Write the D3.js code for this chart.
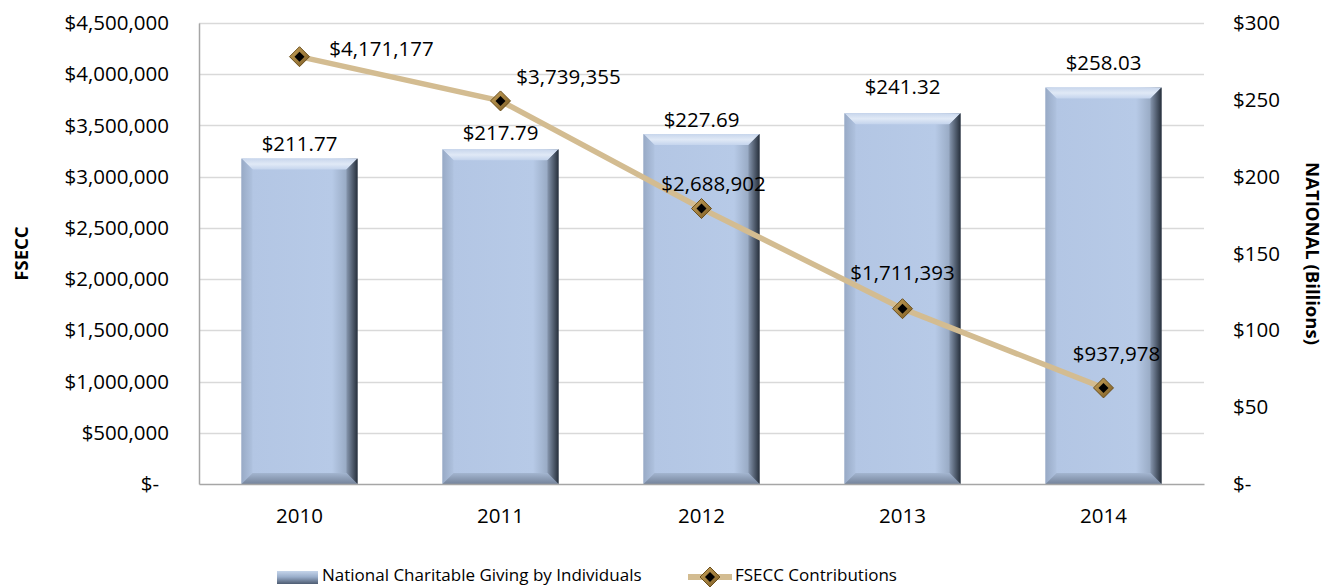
<!DOCTYPE html>
<html>
<head>
<meta charset="utf-8">
<script src="https://cdn.jsdelivr.net/npm/d3@7"></script>
<style>
  body { margin: 0; background: #fff; }
  text { font-family: "Open Sans", "Noto Sans", sans-serif; fill: #000; }
</style>
</head>
<body>
<div id="chart"></div>
<script>
// data
var years = ["2010", "2011", "2012", "2013", "2014"];
var national = [211.77, 217.79, 227.69, 241.32, 258.03];   // billions
var fsecc = [4171177, 3739355, 2688902, 1711393, 937978];
var leftTicks = [0, 500000, 1000000, 1500000, 2000000, 2500000, 3000000, 3500000, 4000000, 4500000];
var rightTicks = [0, 50, 100, 150, 200, 250, 300];
// label nudges (px): gap above each bar, and dx/dy of each line label from its point
var barLabelGap = [8, 9, 7, 19, 17];
var lineLabelOffset = [[82, -1], [68, -17], [12, -18], [0, -29], [13, -27]];

var W = 1329, H = 587;
var margin = {top: 23, right: 125, bottom: 103, left: 199};
var width = W - margin.left - margin.right,
    height = H - margin.top - margin.bottom;
var fs = "20.5px";

var svg = d3.select("#chart").append("svg")
  .attr("width", W).attr("height", H);

var defs = svg.append("defs");
function grad(id, x2, y2, stops) {
  var gr = defs.append("linearGradient").attr("id", id)
    .attr("x1", 0).attr("y1", 0).attr("x2", x2).attr("y2", y2);
  stops.forEach(function(s) {
    gr.append("stop").attr("offset", s[0]).attr("stop-color", s[1]);
  });
}
grad("barBody", 1, 0, [["0%", "#a1b4d0"], ["8%", "#b3c6e4"], ["78%", "#b7cae7"], ["90%", "#9aacc6"], ["100%", "#4a5668"]]);
grad("bevTop", 0, 1, [["0%", "#c8d6ec"], ["50%", "#e0e9f6"], ["100%", "#c4d4ed"]]);
grad("bevRight", 1, 0, [["0%", "#8696ae"], ["100%", "#27303c"]]);
grad("bevLeft", 1, 0, [["0%", "#98aac6"], ["100%", "#afc2df"]]);
grad("bevBottom", 0, 1, [["0%", "#a3b5d0"], ["100%", "#75849b"]]);
grad("markerFill", 1, 1, [["0%", "#c9a45c"], ["100%", "#7a5a22"]]);
grad("legBar", 0, 1, [["0%", "#c5d4ea"], ["45%", "#9aaecb"], ["100%", "#4e5c72"]]);

var g = svg.append("g").attr("transform", "translate(" + margin.left + "," + margin.top + ")");

var x = d3.scaleBand().domain(years).range([0, width]).paddingInner(0.423).paddingOuter(0.2115);
var yL = d3.scaleLinear().domain([0, 4500000]).range([height, 0]);
var yR = d3.scaleLinear().domain([0, 300]).range([height, 0]);

// gridlines
g.append("g").selectAll("line").data(leftTicks.slice(1)).enter().append("line")
  .attr("x1", 0).attr("x2", width)
  .attr("y1", function(d) { return Math.round(yL(d)) + 0.5; })
  .attr("y2", function(d) { return Math.round(yL(d)) + 0.5; })
  .attr("stroke", "#d9d9d9").attr("stroke-width", 1.5);

// left axis
var fmtL = function(d) { return d === 0 ? "$-" : "$" + d3.format(",")(d); };
var axL = g.append("g").call(d3.axisLeft(yL).tickValues(leftTicks).tickSize(0).tickPadding(30).tickFormat(fmtL));
axL.select(".domain").attr("stroke", "#a6a6a6").attr("stroke-width", 1.5);
axL.selectAll("text").style("font-size", fs).attr("font-family", null)
  .attr("dx", function(d) { return d === 0 ? -10 : 0; });

// right axis
var fmtR = function(d) { return d === 0 ? "$-" : "$" + d; };
var axR = g.append("g").attr("transform", "translate(" + width + ",0)")
  .call(d3.axisRight(yR).tickValues(rightTicks).tickSize(0).tickPadding(29).tickFormat(fmtR));
axR.select(".domain").remove();
axR.selectAll("text").style("font-size", fs).attr("font-family", null);

// bars
var b = 11;
var bars = g.append("g").selectAll("g").data(national).enter().append("g");
bars.each(function(d, i) {
  var sel = d3.select(this);
  var x0 = x(years[i]), x1 = x0 + x.bandwidth(), y0 = yR(d), y1 = yR(0);
  sel.append("rect").attr("x", x0).attr("y", y0).attr("width", x1 - x0).attr("height", y1 - y0)
    .attr("fill", "url(#barBody)");
  sel.append("polygon").attr("points", [[x0, y0], [x1, y0], [x1 - b, y0 + b], [x0 + b, y0 + b]].join(" "))
    .attr("fill", "url(#bevTop)");
  sel.append("polygon").attr("points", [[x0, y0], [x0 + b, y0 + b], [x0 + b, y1 - b], [x0, y1]].join(" "))
    .attr("fill", "url(#bevLeft)");
  sel.append("polygon").attr("points", [[x1, y0], [x1, y1], [x1 - b, y1 - b], [x1 - b, y0 + b]].join(" "))
    .attr("fill", "url(#bevRight)");
  sel.append("polygon").attr("points", [[x0, y1], [x1, y1], [x1 - b, y1 - b], [x0 + b, y1 - b]].join(" "))
    .attr("fill", "url(#bevBottom)");
  sel.append("text").attr("x", (x0 + x1) / 2).attr("y", y0 - barLabelGap[i])
    .attr("text-anchor", "middle").style("font-size", fs)
    .text("$" + d3.format(".2f")(d));
});

// bottom axis
var axB = g.append("g").attr("transform", "translate(0," + height + ")")
  .call(d3.axisBottom(x).tickSize(0).tickPadding(24));
axB.select(".domain").attr("stroke", "#a6a6a6").attr("stroke-width", 1.5);
axB.selectAll("text").style("font-size", fs).attr("font-family", null);

// line
var cx = function(i) { return x(years[i]) + x.bandwidth() / 2; };
var line = d3.line().x(function(d, i) { return cx(i); }).y(function(d) { return yL(d); });
g.append("path").datum(fsecc).attr("d", line)
  .attr("fill", "none").attr("stroke", "#d3bc91").attr("stroke-width", 5.5);

function diamond(sel, px, py) {
  sel.append("path").attr("d", "M" + px + "," + (py - 10) + "L" + (px + 10) + "," + py + "L" + px + "," + (py + 10) + "L" + (px - 10) + "," + py + "Z")
    .attr("fill", "url(#markerFill)").attr("stroke", "#6b4f1c").attr("stroke-width", 1);
  sel.append("path").attr("d", "M" + px + "," + (py - 5) + "L" + (px + 5) + "," + py + "L" + px + "," + (py + 5) + "L" + (px - 5) + "," + py + "Z")
    .attr("fill", "#000");
}
var pts = g.append("g");
fsecc.forEach(function(d, i) {
  diamond(pts, cx(i), yL(d));
  pts.append("text").attr("x", cx(i) + lineLabelOffset[i][0]).attr("y", yL(d) + lineLabelOffset[i][1])
    .attr("text-anchor", "middle").style("font-size", fs)
    .text("$" + d3.format(",")(d));
});

// axis titles
svg.append("text").attr("transform", "translate(28," + (margin.top + height / 2) + ") rotate(-90)")
  .attr("text-anchor", "middle").style("font-size", "18.5px").style("font-weight", "bold").text("FSECC");
svg.append("text").attr("transform", "translate(1306," + (margin.top + height / 2) + ") rotate(90)")
  .attr("text-anchor", "middle").style("font-size", "18.5px").style("font-weight", "bold").text("NATIONAL (Billions)");

// legend
var leg = svg.append("g");
leg.append("rect").attr("x", 277).attr("y", 571).attr("width", 41).attr("height", 13).attr("fill", "url(#legBar)");
leg.append("text").attr("x", 322).attr("y", 581).style("font-size", "17px").text("National Charitable Giving by Individuals");
leg.append("line").attr("x1", 688).attr("x2", 732).attr("y1", 577).attr("y2", 577)
  .attr("stroke", "#d3bc91").attr("stroke-width", 6);
diamond(leg, 710, 577);
leg.append("text").attr("x", 735).attr("y", 581).style("font-size", "17px").text("FSECC Contributions");
</script>
</body>
</html>
